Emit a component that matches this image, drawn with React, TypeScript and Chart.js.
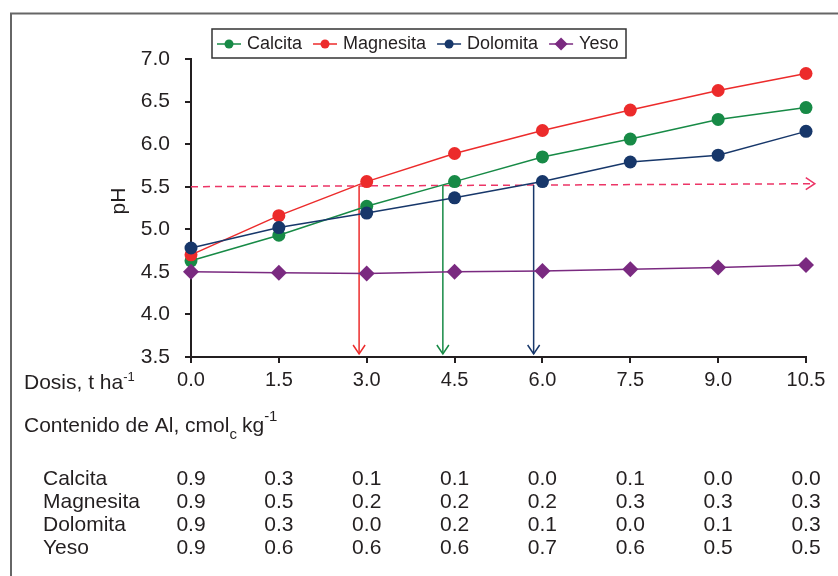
import React, { useEffect, useRef } from 'react';
import { Chart, registerables } from 'chart.js';

Chart.register(...registerables);

// ---------- data ----------
const doses = [0, 1.5, 3, 4.5, 6, 7.5, 9, 10.5];
const seriesNames = ['Calcita', 'Magnesita', 'Dolomita', 'Yeso'];
const calcitaPH = [4.63, 4.93, 5.27, 5.56, 5.85, 6.06, 6.29, 6.43];
const magnesitaPH = [4.7, 5.16, 5.56, 5.89, 6.16, 6.4, 6.63, 6.83];
const dolomitaPH = [4.78, 5.02, 5.19, 5.37, 5.56, 5.79, 5.87, 6.15];
const yesoPH = [4.5, 4.49, 4.48, 4.5, 4.51, 4.53, 4.55, 4.58];
const yTicks = [3.5, 4.0, 4.5, 5.0, 5.5, 6.0, 6.5, 7.0];

const alCalcita = ['0.9', '0.3', '0.1', '0.1', '0.0', '0.1', '0.0', '0.0'];
const alMagnesita = ['0.9', '0.5', '0.2', '0.2', '0.2', '0.3', '0.3', '0.3'];
const alDolomita = ['0.9', '0.3', '0.0', '0.2', '0.1', '0.0', '0.1', '0.3'];
const alYeso = ['0.9', '0.6', '0.6', '0.6', '0.7', '0.6', '0.5', '0.5'];

const thresholdX = [0, 10.65];
const thresholdPH = [5.5, 5.535];
const arrowDoses = [2.87, 4.3, 5.85]; // Magnesita, Calcita, Dolomita

// ---------- styles ----------
const GREEN = '#178a46';
const RED = '#ec2b2b';
const NAVY = '#17376a';
const PURPLE = '#7a2a80';
const DASH = '#ec3566';
const INK = '#231f20';
const FONT = "'Liberation Sans', Arial, Helvetica, sans-serif";

const colors = [GREEN, RED, NAVY, PURPLE];
const seriesValues = [calcitaPH, magnesitaPH, dolomitaPH, yesoPH];
const alRows = [alCalcita, alMagnesita, alDolomita, alYeso];

const overlay = {
  id: 'overlay',
  beforeDatasetsDraw(chart: any) {
    const { ctx } = chart;
    const x = chart.scales.x;
    const y = chart.scales.y;
    ctx.save();
    // dashed threshold line
    const x0 = x.getPixelForValue(thresholdX[0]);
    const y0 = y.getPixelForValue(thresholdPH[0]);
    const x1 = x.getPixelForValue(thresholdX[1]);
    const y1 = y.getPixelForValue(thresholdPH[1]);
    ctx.strokeStyle = DASH;
    ctx.lineWidth = 1.5;
    ctx.setLineDash([7, 5]);
    ctx.beginPath();
    ctx.moveTo(x0, y0);
    ctx.lineTo(x1, y1);
    ctx.stroke();
    ctx.setLineDash([]);
    ctx.beginPath();
    ctx.moveTo(x1 - 9, y1 - 6);
    ctx.lineTo(x1, y1);
    ctx.lineTo(x1 - 9, y1 + 6);
    ctx.stroke();
    // vertical arrows
    const arrowColors = [RED, GREEN, NAVY];
    arrowDoses.forEach((d, i) => {
      const px = x.getPixelForValue(d);
      const frac = (d - thresholdX[0]) / (thresholdX[1] - thresholdX[0]);
      const top = y.getPixelForValue(thresholdPH[0] + frac * (thresholdPH[1] - thresholdPH[0]));
      const bot = y.getPixelForValue(yTicks[0]) - 3;
      ctx.strokeStyle = arrowColors[i];
      ctx.lineWidth = 1.5;
      ctx.beginPath();
      ctx.moveTo(px, top);
      ctx.lineTo(px, bot);
      ctx.stroke();
      ctx.beginPath();
      ctx.moveTo(px - 6, bot - 9);
      ctx.lineTo(px, bot);
      ctx.lineTo(px + 6, bot - 9);
      ctx.stroke();
    });
    ctx.restore();
  },
  afterDraw(chart: any) {
    const { ctx } = chart;
    const x = chart.scales.x;
    ctx.save();
    // frame
    ctx.strokeStyle = '#666666';
    ctx.lineWidth = 2;
    ctx.beginPath();
    ctx.moveTo(11, 600);
    ctx.lineTo(11, 13.5);
    ctx.lineTo(860, 13.5);
    ctx.stroke();

    // legend
    const lx = 212, ly = 29, lw = 414, lh = 29;
    ctx.fillStyle = '#ffffff';
    ctx.fillRect(lx, ly, lw, lh);
    ctx.strokeStyle = '#333333';
    ctx.lineWidth = 1.5;
    ctx.strokeRect(lx, ly, lw, lh);
    ctx.font = `18px ${FONT}`;
    ctx.textBaseline = 'middle';
    ctx.textAlign = 'left';
    let cx = lx + 5;
    const cy = ly + lh / 2 + 0.5;
    seriesNames.forEach((name, i) => {
      ctx.strokeStyle = colors[i];
      ctx.fillStyle = colors[i];
      ctx.lineWidth = 1.5;
      ctx.beginPath();
      ctx.moveTo(cx, cy);
      ctx.lineTo(cx + 24, cy);
      ctx.stroke();
      ctx.beginPath();
      if (i === 3) {
        ctx.moveTo(cx + 12, cy - 6.5);
        ctx.lineTo(cx + 18.5, cy);
        ctx.lineTo(cx + 12, cy + 6.5);
        ctx.lineTo(cx + 5.5, cy);
        ctx.closePath();
      } else {
        ctx.arc(cx + 12, cy, 4.5, 0, Math.PI * 2);
      }
      ctx.fill();
      ctx.fillStyle = INK;
      ctx.fillText(name, cx + 30, cy);
      cx += 30 + ctx.measureText(name).width + 11;
    });

    // y title
    ctx.save();
    ctx.translate(119, 201);
    ctx.rotate(-Math.PI / 2);
    ctx.font = `21px ${FONT}`;
    ctx.textAlign = 'center';
    ctx.textBaseline = 'middle';
    ctx.fillStyle = INK;
    ctx.fillText('pH', 0, 0);
    ctx.restore();

    // Dosis label
    ctx.fillStyle = INK;
    ctx.textAlign = 'left';
    ctx.textBaseline = 'alphabetic';
    ctx.font = `21px ${FONT}`;
    const base1 = 389;
    ctx.fillText('Dosis, t ha', 24, base1);
    const w = ctx.measureText('Dosis, t ha').width;
    ctx.font = `13px ${FONT}`;
    ctx.fillText('-1', 24 + w, base1 - 8);

    // Contenido label
    const base2 = 432;
    ctx.font = `21px ${FONT}`;
    const p1 = 'Contenido de Al, cmol';
    ctx.fillText(p1, 24, base2);
    let px = 24 + ctx.measureText(p1).width;
    ctx.font = `15px ${FONT}`;
    ctx.fillText('c', px, base2 + 7);
    px += ctx.measureText('c').width + 5;
    ctx.font = `21px ${FONT}`;
    ctx.fillText('kg', px, base2);
    px += ctx.measureText('kg').width;
    ctx.font = `15px ${FONT}`;
    ctx.fillText('-1', px, base2 - 11);

    // table
    ctx.font = `21px ${FONT}`;
    const rowBase = [485, 508, 531, 554];
    seriesNames.forEach((name, r) => {
      ctx.textAlign = 'left';
      ctx.fillText(name, 43, rowBase[r]);
      ctx.textAlign = 'center';
      alRows[r].forEach((v, c) => {
        ctx.fillText(v, x.getPixelForValue(doses[c]), rowBase[r]);
      });
    });
    ctx.restore();
  },
};

export default function App() {
  const ref = useRef<HTMLCanvasElement | null>(null);
  useEffect(() => {
    if (!ref.current) return;
    const datasets = seriesNames.map((name, i) => ({
      label: name,
      data: doses.map((d, j) => ({ x: d, y: seriesValues[i][j] })),
      borderColor: colors[i],
      backgroundColor: colors[i],
      borderWidth: 1.5,
      pointRadius: i === 3 ? 8 : 6.5,
      pointStyle: i === 3 ? 'rectRot' : 'circle',
      pointBorderWidth: 0,
      pointBorderColor: colors[i],
      clip: false as any,
      tension: 0,
    }));
    const chart = new Chart(ref.current, {
      type: 'line',
      data: { datasets: datasets.slice().reverse() as any },
      options: {
        responsive: false,
        animation: false,
        layout: { padding: { top: 59, right: 32, left: 0, bottom: 0 } },
        plugins: { legend: { display: false }, tooltip: { enabled: false } },
        scales: {
          x: {
            type: 'linear',
            min: 0,
            max: 10.5,
            afterBuildTicks: (s: any) => {
              s.ticks = doses.map((v) => ({ value: v }));
            },
            afterFit: (s: any) => {
              s.height = 219;
            },
            ticks: {
              callback: (v: any) => Number(v).toFixed(1),
              color: INK,
              font: { family: FONT, size: 20 },
              padding: 5,
              maxRotation: 0,
            },
            grid: { display: true, drawOnChartArea: false, drawTicks: true, tickLength: 6, color: INK, lineWidth: 2 },
            border: { display: true, color: INK, width: 2 },
          },
          y: {
            type: 'linear',
            min: 3.5,
            max: 7,
            afterBuildTicks: (s: any) => {
              s.ticks = yTicks.map((v) => ({ value: v }));
            },
            afterFit: (s: any) => {
              s.width = 191;
            },
            ticks: {
              callback: (v: any) => Number(v).toFixed(1),
              color: INK,
              font: { family: FONT, size: 21 },
              padding: 15,
            },
            grid: { display: true, drawOnChartArea: false, drawTicks: true, tickLength: 6, color: INK, lineWidth: 2 },
            border: { display: true, color: INK, width: 2 },
          },
        },
      },
      plugins: [overlay],
    });
    return () => chart.destroy();
  }, []);
  return (
    <div style={{ position: 'absolute', left: 0, top: 0, width: 838, height: 576, background: '#fff' }}>
      <canvas ref={ref} width={838} height={576} style={{ display: 'block' }} />
    </div>
  );
}
